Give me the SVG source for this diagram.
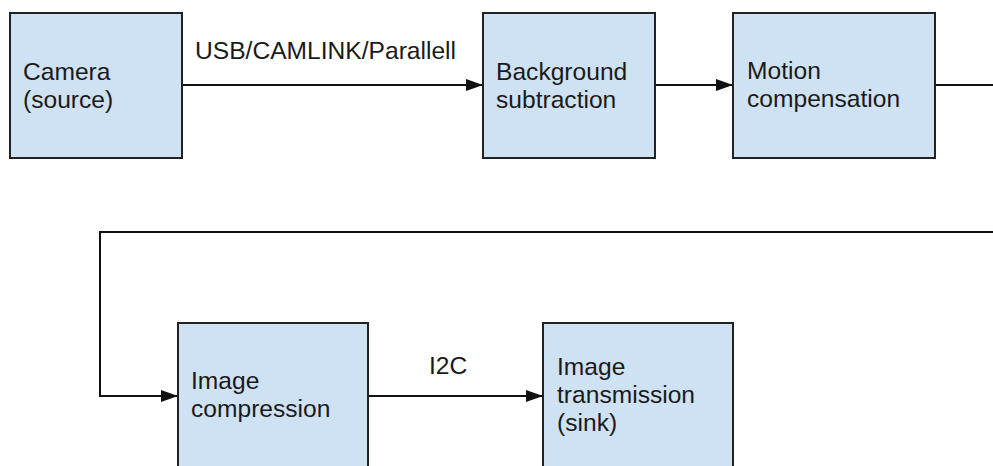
<svg xmlns="http://www.w3.org/2000/svg" width="993" height="466" viewBox="0 0 993 466">
  <style>
    .box { fill: #cfe2f3; stroke: #222222; stroke-width: 2; }
    .lbl { font-family: "Liberation Sans", Arial, sans-serif; font-size: 24.6px; fill: #1a1a1a; }
    .wire { fill: none; stroke: #111111; stroke-width: 2; }
  </style>
  <defs>
    <marker id="arrow" viewBox="0 0 17 12" refX="17" refY="6" markerWidth="17" markerHeight="12" markerUnits="userSpaceOnUse" orient="auto">
      <path d="M0,0 L17,6 L0,12 Z" fill="#111111"/>
    </marker>
  </defs>
  <rect width="993" height="466" fill="#ffffff"/>

  <!-- connectors -->
  <g id="connectors">
    <path class="wire" d="M182,85 H483" marker-end="url(#arrow)"/>
    <path class="wire" d="M655,85 H733" marker-end="url(#arrow)"/>
    <path class="wire" d="M935,85 H993"/>
    <path class="wire" d="M993,232 H100 V396 H178" marker-end="url(#arrow)"/>
    <path class="wire" d="M368,396 H543" marker-end="url(#arrow)"/>
    <text class="lbl" x="195" y="59">USB/CAMLINK/Parallell</text>
    <text class="lbl" x="429" y="374">I2C</text>
  </g>

  <!-- nodes -->
  <g id="camera">
    <rect class="box" x="10" y="13" width="172" height="145"/>
    <text class="lbl" x="23" y="80">Camera</text>
    <text class="lbl" x="23" y="108">(source)</text>
  </g>
  <g id="background">
    <rect class="box" x="483" y="13" width="172" height="145"/>
    <text class="lbl" x="496" y="80">Background</text>
    <text class="lbl" x="496" y="108">subtraction</text>
  </g>
  <g id="motion">
    <rect class="box" x="733" y="13" width="202" height="145"/>
    <text class="lbl" x="747" y="79">Motion</text>
    <text class="lbl" x="747" y="107">compensation</text>
  </g>
  <g id="compression">
    <rect class="box" x="178" y="323" width="190" height="160"/>
    <text class="lbl" x="191" y="389">Image</text>
    <text class="lbl" x="191" y="417">compression</text>
  </g>
  <g id="transmission">
    <rect class="box" x="543" y="323" width="190" height="160"/>
    <text class="lbl" x="557" y="375">Image</text>
    <text class="lbl" x="557" y="403">transmission</text>
    <text class="lbl" x="557" y="431">(sink)</text>
  </g>
</svg>
